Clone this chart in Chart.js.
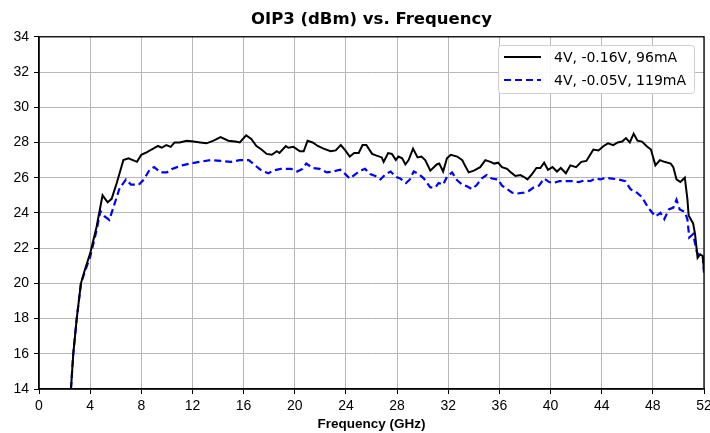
<!DOCTYPE html>
<html>
<head>
<meta charset="utf-8">
<script src="https://cdn.jsdelivr.net/npm/chart.js@4.4.1/dist/chart.umd.min.js"></script>
<style>
  body { margin: 0; background: #fff; }
  canvas { display: block; }
</style>
</head>
<body>
<canvas id="oip3" width="710" height="433"></canvas>
<script>
// series 1: 4V, -0.16V, 96mA
const freq1 = [
  2.5, 2.68, 2.95, 3.28, 3.6, 4.0, 4.5, 4.97, 5.37, 5.68, 6.08, 6.6, 7.0, 7.66, 8.0, 8.45, 8.8, 9.3, 9.6, 9.95,
  10.3, 10.6, 11.0, 11.55, 12.08, 12.6, 13.1, 13.65, 14.2, 14.8, 15.35, 15.7, 16.2, 16.6, 17.0, 17.4, 17.8, 18.2,
  18.6, 18.8, 19.3, 19.5, 19.9, 20.4, 20.7, 21.0, 21.4, 21.8, 22.25, 22.8, 23.2, 23.6, 23.95, 24.3, 24.65, 25.0,
  25.3, 25.6, 26.05, 26.4, 26.8, 26.95, 27.3, 27.6, 27.9, 28.1, 28.4, 28.65, 28.9, 29.25, 29.6, 29.9, 30.2, 30.6,
  31.1, 31.3, 31.6, 31.9, 32.2, 32.7, 33.1, 33.3, 33.6, 34.0, 34.5, 34.9, 35.3, 35.6, 35.9, 36.2, 36.6, 36.9,
  37.25, 37.65, 37.9, 38.2, 38.55, 38.9, 39.2, 39.5, 39.8, 40.15, 40.5, 40.8, 41.2, 41.55, 42.0, 42.4, 42.8, 43.1,
  43.35, 43.75, 44.15, 44.5, 44.9, 45.25, 45.6, 45.9, 46.2, 46.5, 46.8, 47.15, 47.5, 47.85, 48.2, 48.55, 48.9,
  49.4, 49.6, 49.85, 50.15, 50.5, 50.7, 50.8, 51.15, 51.3, 51.5, 51.7, 51.9, 52.0
];
const oip3_1 = [
  14.0, 16.0, 18.0, 20.0, 20.8, 21.7, 23.2, 25.0, 24.6, 24.8, 25.7, 27.0, 27.1, 26.9, 27.3, 27.45, 27.6, 27.8, 27.7, 27.85,
  27.75, 28.0, 28.0, 28.1, 28.05, 28.0, 27.95, 28.1, 28.3, 28.1, 28.05, 28.0, 28.4, 28.2, 27.8, 27.6, 27.35, 27.3,
  27.5, 27.4, 27.8, 27.7, 27.75, 27.5, 27.5, 28.1, 28.0, 27.8, 27.65, 27.5, 27.55, 27.85, 27.55, 27.2, 27.4, 27.4,
  27.85, 27.85, 27.35, 27.25, 27.15, 26.9, 27.4, 27.35, 27.0, 27.2, 27.1, 26.75, 27.0, 27.65, 27.15, 27.2, 27.0, 26.4,
  26.75, 26.8, 26.35, 27.1, 27.3, 27.2, 27.0, 26.7, 26.3, 26.4, 26.6, 27.0, 26.9, 26.8, 26.85, 26.6, 26.5, 26.3,
  26.1, 26.15, 26.05, 25.9, 26.2, 26.55, 26.55, 26.85, 26.45, 26.6, 26.35, 26.55, 26.25, 26.7, 26.6, 26.9, 26.95, 27.3,
  27.6, 27.55, 27.8, 27.95, 27.85, 28.0, 28.05, 28.25, 28.0, 28.5, 28.1, 28.05, 27.8, 27.6, 26.7, 27.0, 26.9,
  26.8, 26.6, 25.9, 25.75, 26.0, 24.8, 23.85, 23.4, 22.8, 21.45, 21.65, 21.55, 20.7
];

// series 2: 4V, -0.05V, 119mA
const freq2 = [
  2.5, 2.68, 2.95, 3.28, 3.6, 4.0, 4.5, 4.8, 5.13, 5.5, 5.9, 6.3, 6.8, 7.2, 7.8, 8.2, 8.65, 9.0, 9.5, 10.0,
  10.4, 10.8, 11.2, 11.8, 12.6, 13.4, 14.2, 15.0, 15.7, 16.4, 16.9, 17.4, 17.95, 18.3, 18.9, 19.7, 20.2, 20.6,
  20.9, 21.4, 21.95, 22.5, 23.0, 23.55, 23.95, 24.3, 24.65, 25.1, 25.5, 25.9, 26.3, 26.7, 27.1, 27.5, 27.9, 28.25,
  28.7, 29.0, 29.3, 29.7, 30.1, 30.6, 31.0, 31.25, 31.6, 31.9, 32.3, 32.7, 33.1, 33.5, 33.85, 34.25, 34.6, 35.0,
  35.4, 35.9, 36.2, 36.6, 37.0, 37.4, 37.9, 38.3, 38.7, 39.1, 39.5, 39.9, 40.2, 40.7, 41.25, 41.8, 42.2, 42.7,
  43.1, 43.5, 43.9, 44.3, 44.8, 45.3, 45.85, 46.25, 46.75, 47.15, 47.55, 47.8, 48.2, 48.6, 48.9, 49.25, 49.6,
  49.85, 50.1, 50.5, 50.7, 50.85, 51.15, 51.45, 51.65, 51.9, 52.0
];
const oip3_2 = [
  14.0, 16.0, 18.0, 20.0, 20.7, 21.5, 23.0, 24.1, 23.8, 23.6, 24.5, 25.4, 25.9, 25.6, 25.6, 25.9, 26.45, 26.6, 26.3, 26.3,
  26.5, 26.6, 26.7, 26.8, 26.9, 27.0, 26.95, 26.9, 27.0, 27.0, 26.7, 26.4, 26.25, 26.4, 26.5, 26.5, 26.35, 26.5,
  26.8, 26.55, 26.5, 26.3, 26.35, 26.45, 26.2, 25.95, 26.15, 26.4, 26.5, 26.2, 26.1, 25.9, 26.2, 26.35, 26.05, 25.95,
  25.7, 25.9, 26.35, 26.2, 25.95, 25.45, 25.45, 25.7, 25.6, 26.05, 26.3, 25.85, 25.6, 25.5, 25.35, 25.6, 25.95, 26.15,
  25.95, 25.9, 25.55, 25.35, 25.15, 25.1, 25.15, 25.25, 25.45, 25.55, 25.95, 25.75, 25.7, 25.8, 25.8, 25.8, 25.75, 25.85,
  25.8, 25.95, 25.9, 26.0, 25.95, 25.9, 25.8, 25.35, 25.15, 24.9, 24.4, 24.15, 23.8, 24.0, 23.65, 24.2, 24.3,
  24.75, 24.2, 24.05, 23.65, 22.6, 22.8, 21.75, 21.6, 21.6, 20.6
];

const seriesLabels = ["4V, -0.16V, 96mA", "4V, -0.05V, 119mA"];
const xTicks = [0, 4, 8, 12, 16, 20, 24, 28, 32, 36, 40, 44, 48, 52];
const yTicks = [14, 16, 18, 20, 22, 24, 26, 28, 30, 32, 34];

const tickFont = { family: "'Liberation Sans Narrow', 'Liberation Sans', sans-serif", size: 14 };

function pts(xs, ys) {
  return xs.map((x, i) => ({ x: x, y: ys[i] }));
}

// frame around the plot + boxed legend in the top-right corner
const framePlugin = {
  id: "frame",
  afterDraw(chart) {
    const ctx = chart.ctx;
    const a = chart.chartArea;
    ctx.save();
    ctx.strokeStyle = "#000";
    ctx.lineWidth = 1.3;
    ctx.strokeRect(a.left, a.top, a.right - a.left, a.bottom - a.top);

    // legend box
    const bx = 498, by = 45, bw = 196, bh = 48;
    ctx.fillStyle = "rgba(255,255,255,0.9)";
    ctx.strokeStyle = "#d0d0d0";
    ctx.lineWidth = 1;
    ctx.beginPath();
    ctx.roundRect(bx + 0.5, by + 0.5, bw, bh, 3);
    ctx.fill();
    ctx.stroke();

    ctx.font = "14px 'DejaVu Sans'";
    ctx.textBaseline = "middle";
    chart.data.datasets.forEach((ds, i) => {
      const y = by + 12 + i * 23;
      ctx.strokeStyle = ds.borderColor;
      ctx.lineWidth = 2;
      ctx.setLineDash(ds.borderDash || []);
      ctx.beginPath();
      ctx.moveTo(504, y);
      ctx.lineTo(541, y);
      ctx.stroke();
      ctx.setLineDash([]);
      ctx.fillStyle = "#000";
      ctx.fillText(ds.label, 554, y + 1);
    });
    ctx.restore();
  },
};

const data = {
  datasets: [
    {
      label: seriesLabels[0],
      data: pts(freq1, oip3_1),
      borderColor: "#000000",
      borderWidth: 2,
      pointRadius: 0,
      tension: 0,
    },
    {
      label: seriesLabels[1],
      data: pts(freq2, oip3_2),
      borderColor: "#0000ff",
      borderWidth: 2.2,
      borderDash: [7, 4],
      pointRadius: 0,
      tension: 0,
    },
  ],
};

const config = {
  type: "line",
  data: data,
  options: {
    responsive: false,
    animation: false,
    layout: { padding: { left: 0, right: 6, top: 0, bottom: 0 } },
    plugins: {
      legend: { display: false },
      tooltip: { enabled: false },
      title: {
        display: true,
        fullSize: false,
        text: "OIP3 (dBm) vs. Frequency",
        color: "#000",
        font: { family: "'DejaVu Sans'", size: 16.5, weight: "bold" },
        padding: { top: 10, bottom: 7 },
      },
    },
    scales: {
      x: {
        type: "linear",
        min: 0,
        max: 52,
        afterFit(scale) {
          scale.height = 44;
          scale.paddingLeft = 0;
          scale.paddingRight = 0;
        },
        afterBuildTicks(scale) { scale.ticks = xTicks.map((v) => ({ value: v })); },
        ticks: { color: "#000", font: tickFont, padding: 4, maxRotation: 0, autoSkip: false },
        grid: { color: "#b8b8b8", lineWidth: 1, tickLength: 5, tickColor: "#000" },
        border: { color: "#000", width: 1.3 },
        title: {
          display: true,
          text: "Frequency (GHz)",
          color: "#000",
          font: { family: "'Liberation Sans', sans-serif", size: 13.5, weight: "bold" },
          padding: { top: 0, bottom: 1 },
        },
      },
      y: {
        type: "linear",
        min: 14,
        max: 34,
        afterFit(scale) { scale.width = 39; },
        afterBuildTicks(scale) { scale.ticks = yTicks.map((v) => ({ value: v })); },
        ticks: { color: "#000", font: tickFont, padding: 5, autoSkip: false },
        grid: { color: "#b8b8b8", lineWidth: 1, tickLength: 5, tickColor: "#000" },
        border: { color: "#000", width: 1.3 },
      },
    },
  },
  plugins: [framePlugin],
};

const ctx = document.getElementById("oip3").getContext("2d");
let chart = new Chart(ctx, config);
</script>
</body>
</html>
